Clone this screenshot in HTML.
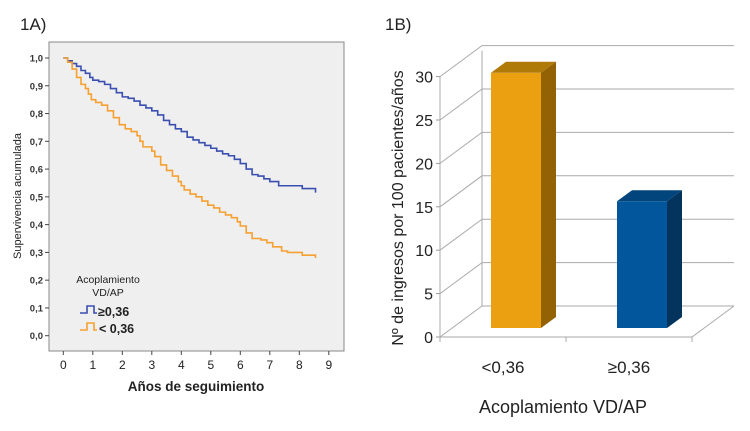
<!DOCTYPE html>
<html><head><meta charset="utf-8"><style>
body{margin:0;background:#fff;}
svg{display:block;}
text{font-family:"Liberation Sans",sans-serif;}
</style></head><body>
<svg width="750" height="431" viewBox="0 0 750 431" xmlns="http://www.w3.org/2000/svg">
<text x="20" y="30" font-size="17" fill="#222">1A)</text>
<text x="385" y="30" font-size="17" fill="#222">1B)</text>
<g id="km"></g>
<g id="bar"></g>
</svg>
<script>
// Kaplan-Meier data
const blueT = [0,0.15,0.3,0.45,0.6,0.75,0.9,1.0,1.2,1.4,1.6,1.8,2.0,2.2,2.4,2.6,2.8,3.0,3.2,3.4,3.6,3.8,4.0,4.2,4.4,4.6,4.8,5.0,5.2,5.4,5.6,5.8,6.0,6.2,6.4,6.6,6.8,7.0,7.3,7.6,8.1,8.55];
const blueS = [1.0,0.99,0.98,0.97,0.955,0.945,0.93,0.92,0.915,0.905,0.89,0.875,0.86,0.855,0.845,0.83,0.82,0.81,0.795,0.775,0.76,0.745,0.735,0.715,0.705,0.695,0.685,0.675,0.665,0.655,0.648,0.635,0.62,0.60,0.58,0.575,0.565,0.555,0.54,0.54,0.53,0.515];
const orangeT = [0,0.15,0.3,0.45,0.6,0.75,0.85,0.95,1.1,1.3,1.5,1.7,1.9,2.1,2.3,2.5,2.6,2.7,3.0,3.1,3.3,3.5,3.7,3.9,4.0,4.1,4.3,4.5,4.7,4.9,5.1,5.3,5.5,5.7,5.9,6.0,6.2,6.4,6.7,6.9,7.1,7.4,7.6,8.1,8.55];
const orangeS = [1.0,0.985,0.96,0.93,0.905,0.89,0.87,0.85,0.84,0.83,0.81,0.785,0.76,0.745,0.735,0.72,0.70,0.68,0.665,0.645,0.615,0.595,0.575,0.555,0.54,0.525,0.51,0.50,0.485,0.47,0.46,0.445,0.435,0.425,0.41,0.395,0.37,0.35,0.345,0.335,0.32,0.305,0.30,0.29,0.28];
const kmXTicks = [0,1,2,3,4,5,6,7,8,9];
const kmYTicks = ["0,0","0,1","0,2","0,3","0,4","0,5","0,6","0,7","0,8","0,9","1,0"];
// Bar data
const barCats = ["<0,36","≥0,36"];
const barVals = [29.4,14.6];
const barYTicks = [0,5,10,15,20,25,30];

const NS="http://www.w3.org/2000/svg";
function mk(p,tag,a,txt){const e=document.createElementNS(NS,tag);for(const k in a)e.setAttribute(k,a[k]);if(txt!=null)e.textContent=txt;p.appendChild(e);return e;}

// ---- KM chart ----
const km=document.getElementById('km');
const kx=t=>63.3+t*29.5, ky=s=>335.7-s*277.7;
let e=mk(km,'rect',{x:49,y:42,width:295,height:309,fill:'#efefef',stroke:'#888','stroke-width':1});


kmYTicks.forEach((l,i)=>{const y=ky(i/10);
 mk(km,'line',{x1:45,x2:49,y1:y,y2:y,stroke:'#444'});
 e=mk(km,'text',{x:43,y:y+3.5,'font-size':9.5,'text-anchor':'end',fill:'#333','font-weight':'bold'},l);
 
 
});
kmXTicks.forEach(t=>{const x=kx(t);
 mk(km,'line',{x1:x,x2:x,y1:351,y2:355,stroke:'#444'});
 e=mk(km,'text',{x:x,y:369,'font-size':12,'text-anchor':'middle',fill:'#222'},t);
 
 
});
e=mk(km,'text',{x:196,y:391,'font-size':13.5,'font-weight':'bold','text-anchor':'middle',fill:'#222'},'Años de seguimiento');


e=mk(km,'text',{x:0,y:0,'font-size':11,'text-anchor':'middle',fill:'#222',transform:'translate(21,196) rotate(-90)'},'Supervivencia acumulada');


function step(T,S){let d='M'+kx(T[0])+','+ky(S[0]);for(let i=1;i<T.length;i++){d+=' H'+kx(T[i])+' V'+ky(S[i]);}return d;}
e=mk(km,'path',{d:step(blueT,blueS),fill:'none',stroke:'#3a4fb0','stroke-width':1.6});


e=mk(km,'path',{d:step(orangeT,orangeS),fill:'none',stroke:'#f5a030','stroke-width':1.6});


e=mk(km,'text',{x:108,y:283,'font-size':10.5,'text-anchor':'middle',fill:'#222'},'Acoplamiento');


mk(km,'text',{x:108,y:296,'font-size':10.5,'text-anchor':'middle',fill:'#222'},'VD/AP');
mk(km,'path',{d:'M80,313 H87 V306 H94 V313 H97',fill:'none',stroke:'#3a4fb0','stroke-width':1.6});
e=mk(km,'text',{x:98,y:316,'font-size':12.5,'font-weight':'bold',fill:'#222'},'≥0,36');


mk(km,'path',{d:'M80,330 H87 V323 H94 V330 H97',fill:'none',stroke:'#f5a030','stroke-width':1.6});
e=mk(km,'text',{x:99,y:333,'font-size':12.5,'font-weight':'bold',fill:'#222'},'< 0,36');



// ---- Bar chart ----
const bg=document.getElementById('bar');
const DX=42, DY=-31, X0=440, X1=692, Y0=337, PER=43.4/5;
const by=v=>Y0-v*PER;
barYTicks.forEach(v=>{const y=by(v);
 mk(bg,'polyline',{points:`${X0},${y} ${X0+DX},${y+DY} ${X1+DX},${y+DY}`,fill:'none',stroke:'#aaa','stroke-width':1});
 mk(bg,'line',{x1:X0-4,x2:X0,y1:y,y2:y,stroke:'#999'});
 e=mk(bg,'text',{x:X0-7,y:y+6,'font-size':16,'text-anchor':'end',fill:'#222'},v);
 
 
});
mk(bg,'line',{x1:X0+DX,x2:X0+DX,y1:by(0)+DY,y2:by(30)+DY+5,stroke:'#aaa'});
mk(bg,'polyline',{points:`${X0},${Y0} ${X1},${Y0} ${X1+DX},${Y0+DY}`,fill:'none',stroke:'#aaa'});
mk(bg,'line',{x1:X0,x2:X0,y1:by(30),y2:Y0+4,stroke:'#aaa'});
[X0,(X0+X1)/2,X1].forEach(x=>mk(bg,'line',{x1:x,x2:x,y1:Y0,y2:Y0+5,stroke:'#aaa'}));
const colors=[['#eba012','#b07a08','#936205'],['#02569b','#01457c','#02345e']];
const bBase=328, bPer=8.68, bw=50, bdx=15, bdy=-11;
barVals.forEach((v,i)=>{
 const cx=X0+(X1-X0)*(i+0.5)/2, x=cx-12, top=bBase-v*bPer;
 const g=mk(bg,'g',{});
 
 
 mk(g,'rect',{x:x,y:top,width:bw,height:bBase-top,fill:colors[i][0]});
 mk(g,'polygon',{points:`${x},${top} ${x+bdx},${top+bdy} ${x+bw+bdx},${top+bdy} ${x+bw},${top}`,fill:colors[i][1]});
 mk(g,'polygon',{points:`${x+bw},${top} ${x+bw+bdx},${top+bdy} ${x+bw+bdx},${bBase+bdy} ${x+bw},${bBase}`,fill:colors[i][2]});
 e=mk(bg,'text',{x:cx,y:373,'font-size':17,'text-anchor':'middle',fill:'#222'},barCats[i]);
 
 
});
e=mk(bg,'text',{x:563,y:413,'font-size':18,'text-anchor':'middle',fill:'#222'},'Acoplamiento VD/AP');


e=mk(bg,'text',{x:0,y:0,'font-size':16,'text-anchor':'middle',fill:'#222',transform:'translate(403,208) rotate(-90)'},'Nº de ingresos por 100 pacientes/años');


</script>
</body></html>
